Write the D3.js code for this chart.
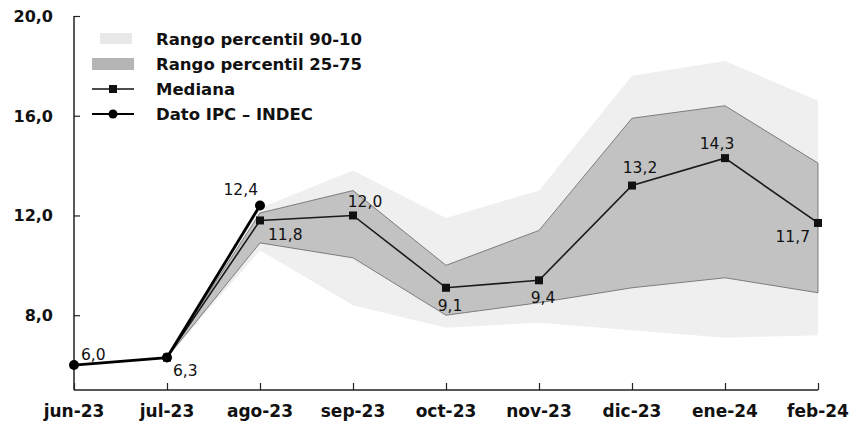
<!DOCTYPE html>
<html>
<head>
<meta charset="utf-8">
<script src="https://cdn.jsdelivr.net/npm/d3@7"></script>
<style>
	body { margin: 0; background: #fff; }
	text { font-family: "DejaVu Sans", sans-serif; fill: #111; }
</style>
</head>
<body>
<script>

//-----------------------------------------------------------------------------------------------------------------DATA

var months = ["jun-23", "jul-23", "ago-23", "sep-23", "oct-23", "nov-23", "dic-23", "ene-24", "feb-24"];

// Dato IPC - INDEC
var ipcMonths = ["jun-23", "jul-23", "ago-23"];
var ipcValues = [6.0, 6.3, 12.4];

// Mediana
var medMonths = ["jul-23", "ago-23", "sep-23", "oct-23", "nov-23", "dic-23", "ene-24", "feb-24"];
var medValues = [6.3, 11.8, 12.0, 9.1, 9.4, 13.2, 14.3, 11.7];

// percentil 25-75
var p25 = [6.3, 10.9, 10.3, 8.0, 8.5, 9.1, 9.5, 8.9];
var p75 = [6.3, 12.1, 13.0, 10.0, 11.4, 15.9, 16.4, 14.1];

// percentil 10-90
var p10 = [6.3, 10.6, 8.4, 7.5, 7.7, 7.4, 7.1, 7.2];
var p90 = [6.3, 12.3, 13.8, 11.9, 13.0, 17.6, 18.2, 16.6];

var yTicks = [8, 12, 16, 20];

var legendLabels = ["Rango percentil 90-10", "Rango percentil 25-75", "Mediana", "Dato IPC – INDEC"];

//-----------------------------------------------------------------------------------------------------------------LAYOUT

var chartW = 852, chartH = 430;
var plotLeft = 74, plotRight = 818, plotTop = 16, plotBottom = 390;

// label placement next to each point
var ipcLabelPos = [
	{ "dx": 7, "dy": -5, "anchor": "start" },
	{ "dx": 6, "dy": 18, "anchor": "start" },
	{ "dx": -2, "dy": -10, "anchor": "end" }
];
var medLabelPos = [
	null,
	{ "dx": 8, "dy": 20, "anchor": "start" },
	{ "dx": 12, "dy": -8, "anchor": "middle" },
	{ "dx": 4, "dy": 23, "anchor": "middle" },
	{ "dx": 4, "dy": 23, "anchor": "middle" },
	{ "dx": 8, "dy": -13, "anchor": "middle" },
	{ "dx": -8, "dy": -9, "anchor": "middle" },
	{ "dx": -8, "dy": 19, "anchor": "end" }
];

var svg = d3.select("body").append("svg").attr("width", chartW).attr("height", chartH);

var x = d3.scalePoint().domain(months).range([plotLeft, plotRight]);
var y = d3.scaleLinear().domain([5, 20]).range([plotBottom, plotTop]);

var fmt = function(v){ return d3.format(".1f")(v).replace(".", ","); };

//-----------------------------------------------------------------------------------------------------------------BANDS

var bandOuter = d3.area()
	.x(function(d, i){ return x(medMonths[i]); })
	.y0(function(d, i){ return y(p10[i]); })
	.y1(function(d, i){ return y(p90[i]); });

var bandInner = d3.area()
	.x(function(d, i){ return x(medMonths[i]); })
	.y0(function(d, i){ return y(p25[i]); })
	.y1(function(d, i){ return y(p75[i]); });

svg.append("path")
	.datum(medMonths)
	.attr("d", bandOuter)
	.style("fill", "#efefef");

svg.append("path")
	.datum(medMonths)
	.attr("d", bandInner)
	.style("fill", "#c2c2c2")
	.style("stroke", "#666")
	.style("stroke-width", 0.8);

//-----------------------------------------------------------------------------------------------------------------AXES

var yAxis = d3.axisRight(y).tickValues(yTicks).tickSize(6).tickFormat("");
var gy = svg.append("g").attr("transform", "translate(" + plotLeft + ",0)").call(yAxis);
gy.select(".domain").attr("d", "M0," + plotTop + "V" + plotBottom).style("stroke", "#222").style("stroke-width", 1.5);
gy.selectAll(".tick line").style("stroke", "#222").style("stroke-width", 1.2);

svg.selectAll(".ylab")
	.data(yTicks)
	.enter().append("text")
	.attr("x", 53)
	.attr("y", function(d){ return y(d) + 6; })
	.attr("text-anchor", "end")
	.style("font-size", "16px")
	.style("font-weight", "bold")
	.text(fmt);

var xAxis = d3.axisTop(x).tickSize(7).tickFormat("");
var gx = svg.append("g").attr("transform", "translate(0," + plotBottom + ")").call(xAxis);
gx.select(".domain").attr("d", "M" + plotLeft + ",0H" + plotRight).style("stroke", "#222").style("stroke-width", 1.5);
gx.selectAll(".tick line").style("stroke", "#222").style("stroke-width", 1.2);

svg.selectAll(".xlab")
	.data(months)
	.enter().append("text")
	.attr("x", function(d){ return x(d); })
	.attr("y", 417)
	.attr("text-anchor", "middle")
	.style("font-size", "17px")
	.style("font-weight", "bold")
	.text(function(d){ return d; });

//-----------------------------------------------------------------------------------------------------------------LINES

var medLine = d3.line()
	.x(function(d, i){ return x(medMonths[i]); })
	.y(function(d){ return y(d); });

var ipcLine = d3.line()
	.x(function(d, i){ return x(ipcMonths[i]); })
	.y(function(d){ return y(d); });

svg.append("path")
	.datum(medValues)
	.attr("d", medLine)
	.style("fill", "none")
	.style("stroke", "#1a1a1a")
	.style("stroke-width", 1.6);

svg.selectAll(".medpt")
	.data(medValues)
	.enter().append("rect")
	.attr("x", function(d, i){ return x(medMonths[i]) - 4; })
	.attr("y", function(d){ return y(d) - 4; })
	.attr("width", 8)
	.attr("height", 8)
	.style("fill", "#111");

svg.append("path")
	.datum(ipcValues)
	.attr("d", ipcLine)
	.style("fill", "none")
	.style("stroke", "#000")
	.style("stroke-width", 2.8);

svg.selectAll(".ipcpt")
	.data(ipcValues)
	.enter().append("circle")
	.attr("cx", function(d, i){ return x(ipcMonths[i]); })
	.attr("cy", function(d){ return y(d); })
	.attr("r", 5)
	.style("fill", "#000");

//-----------------------------------------------------------------------------------------------------------------LABELS

medValues.forEach(function(v, i){
	var p = medLabelPos[i];
	if(p == null) return;
	svg.append("text")
		.attr("x", x(medMonths[i]) + p.dx)
		.attr("y", y(v) + p.dy)
		.attr("text-anchor", p.anchor)
		.style("font-size", "15.5px")
		.text(fmt(v));
});

ipcValues.forEach(function(v, i){
	var p = ipcLabelPos[i];
	svg.append("text")
		.attr("x", x(ipcMonths[i]) + p.dx)
		.attr("y", y(v) + p.dy)
		.attr("text-anchor", p.anchor)
		.style("font-size", "15.5px")
		.text(fmt(v));
});

//-----------------------------------------------------------------------------------------------------------------LEGEND

var legend = svg.append("g").attr("transform", "translate(92,39)");
var rowH = 25;

legend.selectAll("text")
	.data(legendLabels)
	.enter().append("text")
	.attr("x", 64)
	.attr("y", function(d, i){ return i * rowH + 6; })
	.style("font-size", "16.5px")
	.style("font-weight", "bold")
	.text(function(d){ return d; });

legend.append("rect").attr("x", 8).attr("y", -6).attr("width", 32).attr("height", 11).style("fill", "#e8e8e8");
legend.append("rect").attr("x", 0).attr("y", rowH - 6).attr("width", 42).attr("height", 12).style("fill", "#b5b5b5");

legend.append("line").attr("x1", 0).attr("x2", 42).attr("y1", 2 * rowH).attr("y2", 2 * rowH).style("stroke", "#111").style("stroke-width", 1.6);
legend.append("rect").attr("x", 17).attr("y", 2 * rowH - 4).attr("width", 8).attr("height", 8).style("fill", "#111");

legend.append("line").attr("x1", 0).attr("x2", 42).attr("y1", 3 * rowH).attr("y2", 3 * rowH).style("stroke", "#000").style("stroke-width", 2);
legend.append("circle").attr("cx", 21).attr("cy", 3 * rowH).attr("r", 4.5).style("fill", "#000");

</script>
</body>
</html>
